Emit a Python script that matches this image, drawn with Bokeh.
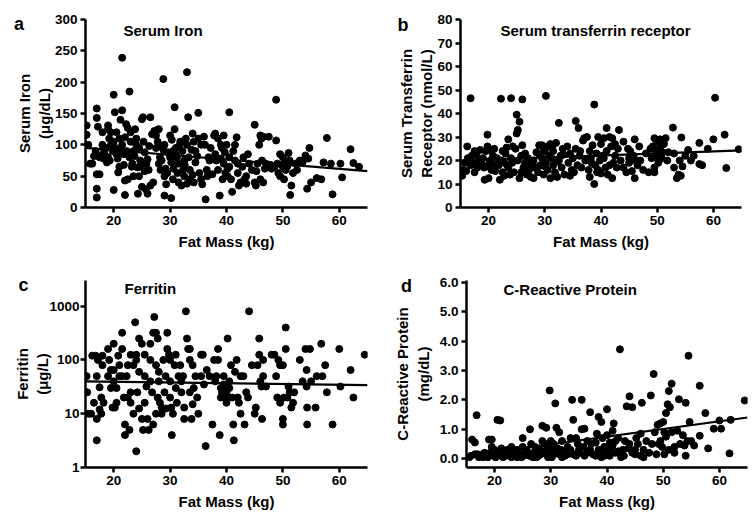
from bokeh.plotting import figure
from bokeh.layouts import column, row
from bokeh.models import Label, FixedTicker, NumeralTickFormatter, Range1d
from bokeh.embed import file_html
from bokeh.resources import INLINE

FONT = "Liberation Sans"

fat_ticks = [20, 30, 40, 50, 60]
fit_fat = [15, 65]

# ---------------- a: Serum iron ----------------
iron_fat = [15.2, 15.2, 15.5, 15.8, 16.2, 16.5, 16.8, 17.0, 17.0, 17.2, 17.0, 17.5, 17.0, 17.0, 17.5,
            18.0, 18.0, 18.0, 18.2, 18.5, 19.0, 19.0, 19.2, 19.5, 19.0, 19.3, 19.5, 19.8, 18.8, 18.3,
            20.0, 20.0, 20.2, 20.5, 20.0, 20.3, 20.5, 20.8, 21.0, 20.7, 21.2, 21.0,
            21.5, 21.5, 21.2, 21.5, 21.8, 22.0, 22.0, 22.2, 22.5, 22.3, 22.8, 22.5, 22.0, 21.8,
            22.8, 23.0, 23.0, 23.2, 23.5, 23.8, 23.5, 23.3, 24.0, 24.0, 24.2, 24.5, 24.3, 24.8, 24.5, 23.7, 24.7,
            25.0, 25.2, 25.3, 25.5, 25.0, 25.7, 25.8, 26.0, 26.0, 26.5, 26.8, 26.2, 26.5, 27.0, 25.5, 26.3,
            27.2, 27.5, 27.8, 28.0, 27.5, 28.0, 28.3, 28.2, 28.8, 28.5, 28.8, 29.0, 29.0, 29.2, 29.5, 29.0, 29.3, 27.8, 28.5, 29.6,
            30.0, 30.3, 30.0, 30.2, 30.5, 30.2, 30.5, 30.8, 30.8, 31.0, 31.2, 31.5, 31.5, 31.8, 31.3, 30.6, 31.0, 31.6,
            32.0, 32.2, 32.5, 32.5, 32.0, 32.3, 33.0, 33.2, 33.0, 33.3, 33.5, 33.5, 33.0, 32.8, 33.8, 32.6,
            34.0, 34.2, 34.5, 34.0, 34.2, 34.5, 35.0, 35.0, 35.2, 35.5, 35.7, 34.8, 35.5,
            36.0, 36.2, 36.5, 36.3, 36.8, 37.0, 37.5, 37.8, 38.0, 38.0, 38.2, 38.5, 38.8, 38.5, 37.2, 36.6,
            39.0, 39.2, 39.5, 39.5, 39.8, 39.3, 39.0, 40.0, 40.2, 40.5, 40.5, 40.8, 40.5, 39.7, 40.2,
            41.0, 41.2, 41.5, 41.8, 42.0, 42.2, 42.5, 42.0, 41.5, 43.0, 43.2, 43.5, 43.8, 44.0, 44.5, 42.8, 43.5,
            45.0, 45.0, 45.2, 45.5, 45.8, 46.0, 46.0, 46.2, 46.5, 46.3, 46.5, 47.0, 47.5, 47.8, 45.3, 46.8,
            48.0, 48.5, 48.8, 48.8, 49.0, 49.2, 49.5, 49.5, 50.0, 50.0, 50.2, 50.5, 50.3, 51.0, 51.2, 51.3, 51.5, 51.8, 49.8, 50.8,
            52.2, 53.0, 54.0, 54.3, 54.5, 54.7, 55.0, 56.0, 56.8, 57.2, 57.8, 58.5, 58.8, 60.2, 60.5, 62.0, 62.5, 63.5, 52.5, 53.5]
iron_val = [131, 116, 100, 70, 70, 82, 90, 158, 143, 129, 53, 53, 30, 16, 80,
            120, 100, 84, 78, 95, 131, 125, 110, 120, 80, 75, 100, 90, 72, 88,
            180, 28, 152, 120, 105, 95, 85, 56, 110, 78, 92, 65,
            239, 155, 140, 100, 68, 43, 20, 133, 127, 90, 80, 45, 112, 85,
            185, 120, 105, 65, 50, 125, 90, 70, 100, 110, 64, 95, 22, 65, 50, 82, 75,
            141, 144, 105, 58, 33, 29, 70, 77, 22, 144, 117, 60, 35, 40, 88, 98,
            122, 115, 124, 125, 95, 70, 60, 80, 205, 97, 92, 100, 19, 62, 55, 50, 37, 105, 75, 88,
            115, 108, 80, 72, 90, 15, 45, 125, 160, 95, 80, 70, 40, 105, 55, 62, 85, 98,
            105, 90, 75, 50, 35, 60, 216, 144, 100, 80, 60, 45, 38, 110, 92, 68,
            118, 105, 90, 52, 40, 72, 151, 110, 55, 45, 37, 82, 100,
            113, 100, 60, 13, 80, 75, 53, 115, 118, 85, 75, 60, 19, 110, 95, 50,
            100, 95, 115, 70, 55, 45, 78, 100, 50, 152, 65, 45, 80, 88, 62,
            25, 90, 100, 112, 55, 35, 40, 70, 75, 80, 45, 50, 85, 70, 60, 65, 38,
            132, 40, 35, 70, 100, 115, 45, 110, 113, 75, 40, 70, 113, 68, 58, 62,
            62, 65, 172, 107, 70, 55, 50, 85, 80, 65, 45, 60, 70, 87, 75, 20, 35, 55, 68, 66,
            70, 75, 83, 30, 78, 95, 40, 47, 45, 72, 111, 70, 21, 70, 48, 93, 71, 65, 60, 72]
iron_fit = [95, 58]
iron_ticks = [0, 50, 100, 150, 200, 250, 300]

# ---------------- b: Serum transferrin receptor ----------------
tfr_fat = [15.3, 15.5, 16.0, 16.2, 16.5, 16.8, 16.8, 17.0, 17.2, 17.5, 17.8, 18.0, 18.2, 18.5, 17.5, 16.3, 18.8, 15.8,
           19.0, 19.2, 19.3, 19.5, 19.8, 19.8, 20.0, 20.2, 20.5, 20.5, 20.8, 21.0, 21.2, 21.5, 19.5, 20.3, 21.0, 21.8,
           22.0, 22.2, 22.3, 22.5, 22.8, 23.0, 23.2, 23.5, 23.5, 23.8, 24.0, 24.0, 24.2, 24.5, 22.5, 23.3, 24.3, 22.8,
           25.0, 25.2, 25.0, 25.5, 25.5, 25.2, 25.8, 26.0, 26.0, 26.2, 26.5, 26.8, 27.0, 27.2, 27.5, 25.8, 26.5, 27.3, 24.8,
           28.0, 28.0, 28.2, 28.5, 28.8, 29.0, 29.2, 29.5, 29.5, 29.8, 30.0, 30.2, 30.2, 30.5, 30.5, 28.5, 29.0, 29.8, 30.0, 30.8,
           31.0, 31.0, 31.2, 31.5, 31.5, 31.8, 32.0, 32.2, 32.5, 32.5, 32.8, 33.0, 33.2, 33.5, 31.3, 32.3, 33.3,
           34.0, 34.2, 34.5, 34.8, 35.0, 35.2, 35.5, 35.5, 35.8, 36.0, 36.2, 36.5, 36.8, 37.0, 37.2, 34.5, 36.3,
           37.5, 37.8, 38.0, 38.0, 38.2, 38.5, 38.8, 38.8, 39.0, 39.2, 39.5, 39.5, 39.8, 40.0, 40.0, 38.3, 39.3, 40.2,
           40.5, 40.5, 40.8, 41.0, 41.0, 41.2, 41.5, 41.8, 42.0, 42.0, 42.2, 42.5, 42.8, 43.0, 43.2, 43.5, 41.5, 42.5,
           44.0, 44.0, 44.5, 44.8, 45.0, 45.2, 45.5, 45.8, 46.0, 46.0, 46.2, 46.5, 46.8, 47.0, 47.5, 48.0, 48.5, 48.8, 45.0,
           49.0, 49.2, 49.5, 49.5, 49.8, 50.0, 50.0, 50.2, 50.5, 50.5, 50.8, 51.0, 51.2, 51.5, 51.8, 52.0, 49.5, 50.3,
           52.8, 53.0, 53.5, 53.8, 54.0, 54.2, 54.3, 54.5, 55.5, 56.0, 56.5, 57.5, 57.5, 58.0, 59.0, 60.0, 60.3, 62.0, 62.3, 64.5, 55.0, 53.0]
tfr_val = [13.5, 16, 15.5, 26, 20, 46.5, 18, 22, 19, 24, 22.5, 17, 20, 24.5, 15, 21, 18.5, 19,
           21, 17, 11.8, 24, 31, 26, 12.5, 19, 24, 16, 22, 18, 15.5, 21, 17.5, 20, 25, 18,
           11.8, 46.3, 20, 15, 19, 23, 25.5, 29, 17, 14, 46.5, 21, 19, 15, 24, 18, 26, 13.5,
           39.5, 33, 31.5, 36.5, 12.5, 20, 22, 46, 26.5, 17, 19, 14, 21, 16, 13, 15, 23, 18.5, 25,
           12.5, 20, 17, 23.5, 15, 26.5, 18, 26.5, 21, 14, 24, 47.5, 19, 26, 16, 17, 22.5, 25, 17.5, 22,
           12.5, 27, 21, 18, 24, 15, 27.5, 13, 36, 20, 22, 17, 25, 14, 26, 19.5, 22.5,
           26, 19, 23, 16, 21, 15, 36.8, 25, 18, 33.8, 22, 17, 28.5, 29.5, 20, 13.5, 24,
           30, 16, 24, 13, 21, 26.5, 43.8, 10, 18, 23, 16, 30, 20, 27, 14.5, 19, 15, 22,
           29.5, 21, 17, 33.8, 24, 14, 30, 26, 29.5, 12.5, 19, 22, 17, 25, 33, 20, 18, 27,
           28, 17, 15, 25, 19, 24, 15.5, 22, 29, 12.5, 20, 18, 26, 20, 16, 23, 15, 25, 21,
           21, 26, 29.5, 17, 24, 28, 22, 19, 29, 25.5, 21, 23.5, 27, 29.5, 20, 23.5, 15, 20,
           34, 17, 12.5, 14, 20, 13.5, 29.8, 17.5, 24.5, 20, 22, 27.5, 18.5, 18, 25, 29, 46.7, 31, 16.8, 24.8, 22, 23]
tfr_fit = [20.0, 24.3]
tfr_ticks = [0, 10, 20, 30, 40, 50, 60, 70, 80]

# ---------------- c: Ferritin ----------------
fer_fat = [15.2, 15.3, 15.5, 16.0, 16.2, 16.5, 16.8, 17.0, 17.0, 17.0, 17.2, 17.5, 17.5, 17.8, 17.8, 18.0, 18.0, 18.2,
           19.0, 19.0, 19.2, 19.5, 19.5, 19.8, 20.0, 20.0, 20.0, 20.2, 20.5, 20.5, 20.8, 21.0, 21.0,
           21.5, 21.5, 21.5, 21.8, 22.0, 22.0, 22.3, 22.5, 22.5, 22.8, 23.0, 23.0, 23.0, 23.5, 23.5,
           23.8, 24.0, 24.0, 24.2, 24.5, 24.5, 24.5, 24.0, 25.0, 25.0, 25.2, 25.5, 25.5, 25.5, 25.8,
           26.0, 26.2, 26.5, 26.5, 26.5, 26.8, 27.0, 27.2, 27.5, 27.5, 27.5, 27.8, 27.8, 27.0,
           28.0, 28.0, 28.2, 28.5, 28.5, 28.8, 29.0, 29.2, 29.3, 29.5, 29.5, 29.8, 30.0, 30.0, 30.0, 30.2, 30.3, 30.5,
           30.8, 31.0, 31.0, 31.2, 31.5, 31.8, 32.0, 32.0, 32.3, 32.5, 32.5, 32.8, 33.0, 33.2, 33.5, 33.5, 33.8, 33.5,
           34.0, 34.0, 34.2, 34.5, 34.8, 35.0, 35.5, 35.5, 35.8, 36.0, 36.3, 36.5, 37.0, 37.5, 37.8, 38.0, 38.2,
           38.5, 38.5, 38.8, 39.0, 39.0, 39.2, 39.5, 39.5, 39.8, 40.0, 40.0, 40.2, 40.0, 40.5, 40.5, 40.8,
           41.0, 41.2, 41.3, 41.5, 41.8, 42.0, 42.2, 42.5, 42.5, 43.0, 43.2, 43.5, 43.8, 44.0, 44.5,
           45.0, 45.2, 45.5, 45.8, 45.8, 46.0, 46.2, 46.5, 46.3, 46.5, 47.0, 48.0, 48.5, 48.8, 49.0, 49.2, 49.5, 49.5,
           50.0, 50.0, 50.0, 50.2, 50.5, 50.5, 50.8, 51.0, 51.2, 51.5, 51.8, 52.0, 53.0, 53.5,
           54.0, 54.2, 54.2, 54.3, 54.3, 54.8, 55.0, 55.8, 56.0, 56.8, 57.0, 57.5, 57.8, 58.8, 60.0, 60.2, 62.0, 62.5, 64.5]
fer_val = [50, 25, 10, 10, 120, 16, 120, 50, 3.2, 8, 100, 31, 12, 10, 20, 120, 80, 16,
           160, 50, 100, 30, 65, 13, 65, 200, 40, 13, 30, 16, 120, 80, 50,
           160, 320, 50, 20, 6.3, 4, 50, 80, 20, 5, 125, 25, 16, 80, 10,
           500, 125, 100, 25, 250, 60, 12.5, 2, 200, 8, 5, 125, 50, 16, 32,
           8, 5, 200, 100, 40, 25, 320, 630, 320, 80, 10, 20, 250, 6.3,
           60, 40, 16, 13, 10, 100, 25, 50, 12.5, 320, 160, 125, 100, 40, 20, 13, 4, 10,
           80, 125, 30, 16, 50, 80, 25, 40, 50, 13, 8, 800, 250, 160, 100, 25, 8, 160,
           80, 15, 30, 50, 20, 10, 125, 50, 125, 35, 2.5, 65, 50, 6.3, 100, 40, 50,
           160, 100, 4, 20, 30, 25, 50, 35, 20, 30, 25, 250, 16, 40, 30, 80,
           20, 6.3, 3.2, 60, 100, 20, 16, 10, 50, 50, 6.3, 25, 20, 800, 80,
           10, 13, 80, 250, 125, 40, 32, 100, 8, 50, 32, 125, 125, 50, 20, 100, 16, 80,
           80, 6.3, 8, 20, 400, 160, 20, 32, 25, 13, 16, 25, 100, 40,
           160, 65, 32, 13, 6.3, 160, 40, 13, 50, 200, 50, 80, 25, 6.3, 160, 32, 65, 20, 125]
fer_fit = [40, 34]
fer_ticks = [1, 10, 100, 1000]

# ---------------- d: C-reactive protein ----------------
crp_fat = [15.5, 16.0, 16.5, 16.8, 17.0, 17.5, 18.0, 18.0, 18.5, 19.0, 19.5, 19.2, 19.5, 19.8, 20.0, 20.2, 20.5, 20.8,
           21.0, 21.0, 21.2, 21.5, 22.0, 22.0, 22.3, 22.5, 23.0, 23.0, 23.5, 23.8, 24.0, 24.0, 24.5,
           25.0, 25.0, 25.2, 25.5, 26.0, 26.3, 26.5, 26.8, 27.0, 27.2, 27.5, 27.8, 28.0, 28.5, 28.5, 28.8,
           29.0, 29.2, 29.5, 29.8, 30.0, 30.0, 30.3, 30.5, 30.8, 31.0, 31.2, 31.5, 31.5, 32.0, 32.0, 32.5,
           33.0, 33.5, 33.8, 34.0, 34.0, 34.5, 34.8, 35.0, 35.5, 35.5, 36.0, 36.0, 36.5, 37.0, 37.0, 37.5,
           38.0, 38.2, 38.5, 38.5, 39.0, 39.0, 39.2, 39.5, 40.0, 40.0, 40.2, 40.5, 40.8, 41.0, 41.2, 41.5,
           42.0, 42.3, 42.5, 42.8, 43.2, 43.5, 44.0, 44.0, 44.5, 45.0, 45.0, 45.5, 46.0, 46.2, 46.5, 46.5, 47.0,
           47.8, 48.3, 48.5, 48.8, 49.0, 49.2, 49.5, 49.8, 50.0, 50.2, 50.5, 50.5, 50.8, 51.0, 51.2, 51.5, 51.5,
           52.0, 52.5, 52.8, 53.5, 53.8, 54.0, 54.0, 54.3, 54.5, 54.7, 55.5, 56.5, 56.5, 57.5, 58.0, 59.0,
           60.0, 60.3, 61.8, 62.0, 64.5,
           15.8, 16.5, 17.2, 18.2, 18.8, 19.8, 20.5, 21.8, 22.8, 23.3, 24.2, 24.8, 25.8, 26.2, 27.5, 28.2, 29.0,
           29.5, 30.2, 31.0, 31.8, 32.5, 33.0, 33.5, 34.5, 35.2, 35.8, 36.5, 37.2, 38.0, 38.8, 39.5, 40.0,
           40.5, 41.0, 41.5, 42.0, 43.0, 43.8, 44.5, 45.2, 46.0, 47.5, 48.0, 49.5, 50.2, 51.0, 52.0, 53.0, 55.0]
crp_val = [0.05, 0.65, 0.55, 1.48, 0.15, 0.1, 0.05, 0.15, 0.1, 0.65, 0.65, 0.2, 0.4, 0.1, 0.3, 0.05, 1.32, 0.25,
           1.3, 0.15, 0.35, 0.05, 0.1, 0.25, 0.3, 0.15, 0.05, 0.4, 0.1, 0.2, 0.3, 0.05, 0.15,
           0.7, 0.4, 0.1, 0.3, 0.15, 1.0, 0.5, 0.05, 0.2, 0.4, 0.25, 0.1, 0.35, 1.12, 0.6, 0.2,
           0.5, 1.05, 0.05, 2.32, 0.3, 0.6, 0.15, 0.5, 1.88, 1.05, 0.35, 0.9, 0.15, 0.6, 0.05, 0.25,
           0.4, 0.7, 2.0, 1.32, 0.15, 0.7, 0.5, 0.3, 2.0, 1.0, 1.02, 0.1, 0.6, 1.58, 0.3, 0.15,
           0.55, 0.85, 1.42, 0.3, 0.05, 1.25, 0.7, 0.4, 1.68, 0.8, 0.15, 0.55, 0.35, 0.95, 1.2, 0.6,
           0.7, 3.72, 0.05, 0.3, 0.6, 1.78, 2.12, 0.5, 1.75, 0.3, 0.15, 0.5, 0.85, 1.9, 0.05, 0.3, 0.6,
           2.15, 2.88, 0.9, 0.15, 1.15, 0.5, 1.2, 0.4, 1.25, 0.15, 1.55, 0.75, 1.85, 2.3, 1.75, 2.55, 0.9,
           0.4, 0.95, 2.02, 0.8, 0.45, 1.9, 0.1, 0.6, 3.5, 1.25, 0.45, 2.48, 0.78, 1.55, 0.35, 1.02,
           1.3, 1.02, 0.18, 1.32, 1.98,
           0.1, 0.15, 0.05, 0.2, 0.05, 0.2, 0.1, 0.2, 0.1, 0.25, 0.15, 0.05, 0.25, 0.1, 0.05, 0.15, 0.25,
           0.4, 0.05, 0.2, 0.3, 0.1, 0.15, 0.3, 0.1, 0.2, 0.4, 0.2, 0.5, 0.1, 0.2, 0.1, 0.3,
           0.1, 0.45, 0.2, 0.25, 0.1, 0.35, 0.2, 0.7, 0.1, 0.2, 0.5, 0.6, 0.9, 0.3, 0.2, 0.5, 0.6]
crp_fit = [0.1, 1.4]
crp_ticks = [0, 1, 2, 3, 4, 5, 6]


def make_panel(width, height, left, right, top, bottom, y_range, y_type, y_ticks, y_label,
               label_standoff=-1, tick_standoff=3):
    p = figure(width=width, height=height, x_range=Range1d(15, 65), y_range=y_range,
               y_axis_type=y_type, output_backend="svg", toolbar_location=None,
               min_border_left=left, min_border_right=right, min_border_top=top,
               min_border_bottom=bottom)
    p.outline_line_color = None
    p.xgrid.visible = False
    p.ygrid.visible = False
    p.background_fill_color = "white"
    p.border_fill_color = "white"
    for ax in p.axis:
        ax.axis_line_width = 2.5
        ax.axis_line_color = "black"
        ax.major_tick_line_width = 2.5
        ax.major_tick_line_color = "black"
        ax.major_tick_out = 5
        ax.major_tick_in = 0
        ax.minor_tick_line_color = None
        ax.major_label_text_font = FONT
        ax.major_label_text_font_style = "bold"
        ax.major_label_text_font_size = "13.5px"
        ax.major_label_text_color = "black"
        ax.major_label_standoff = 3
        ax.axis_label_text_font = FONT
        ax.axis_label_text_font_style = "bold"
        ax.axis_label_text_font_size = "15px"
        ax.axis_label_text_color = "black"
        ax.axis_label_standoff = 5
    p.xaxis.ticker = FixedTicker(ticks=fat_ticks)
    p.xaxis.axis_label = "Fat Mass (kg)"
    p.yaxis.ticker = FixedTicker(ticks=y_ticks)
    p.yaxis.axis_label = y_label
    p.yaxis.axis_label_standoff = label_standoff
    p.yaxis.major_label_standoff = tick_standoff
    return p


def add_title(p, x, y, text):
    p.add_layout(Label(x=x, y=y, x_units="screen", y_units="screen", text=text,
                       text_font=FONT, text_font_style="bold", text_font_size="15px",
                       text_color="black", text_align="left", text_baseline="middle"))


def add_letter(p, x, y, text):
    p.add_layout(Label(x=x, y=y, x_units="screen", y_units="screen", text=text,
                       text_font=FONT, text_font_style="bold", text_font_size="18px",
                       text_color="black", text_align="center", text_baseline="middle"),
                 "left")


# panel a
pa = make_panel(378, 260, 85, 11, 19, 53, Range1d(0, 300), "linear", iron_ticks,
                "Serum Iron\n(\u03bcg/dL)")
pa.scatter(iron_fat, iron_val, size=7, color="black")
pa.line(fit_fat, iron_fit, line_width=2.2, color="black")
add_letter(pa, 16.5, 184, "a")
add_title(pa, 38, 177, "Serum Iron")

# panel b
pb = make_panel(377, 260, 82, 14, 19, 53, Range1d(0, 80), "linear", tfr_ticks,
                "Serum Transferrin\nReceptor (nmol/L)")
pb.scatter(tfr_fat, tfr_val, size=7, color="black")
pb.line(fit_fat, tfr_fit, line_width=2.2, color="black")
add_letter(pb, 18.5, 183, "b")
add_title(pb, 40, 177, "Serum transferrin receptor")

# panel c
pc = make_panel(378, 263, 85, 11, 20, 56, Range1d(1, 3000), "log", fer_ticks,
                "Ferritin\n(\u03bcg/L)", label_standoff=-5, tick_standoff=1)
pc.yaxis.major_label_overrides = {1: "1", 10: "10", 100: "100", 1000: "1000"}
pc.scatter(fer_fat, fer_val, size=7, color="black")
pc.line(fit_fat, fer_fit, line_width=2.2, color="black")
add_letter(pc, 22, 183, "c")
add_title(pc, 39, 178.7, "Ferritin")

# panel d
pd = make_panel(377, 263, 88, 8, 20, 56, Range1d(-0.3, 6.06), "linear", crp_ticks,
                "C-Reactive Protein\n(mg/dL)", label_standoff=5)
pd.yaxis.formatter = NumeralTickFormatter(format="0.0")
pd.scatter(crp_fat, crp_val, size=7, color="black")
pd.line(fit_fat, crp_fit, line_width=2.2, color="black")
add_letter(pd, 26, 182, "d")
add_title(pd, 37, 177.7, "C-Reactive Protein")

layout = column(row(pa, pb), row(pc, pd))

open("out.html", "w").write(file_html(layout, INLINE))
